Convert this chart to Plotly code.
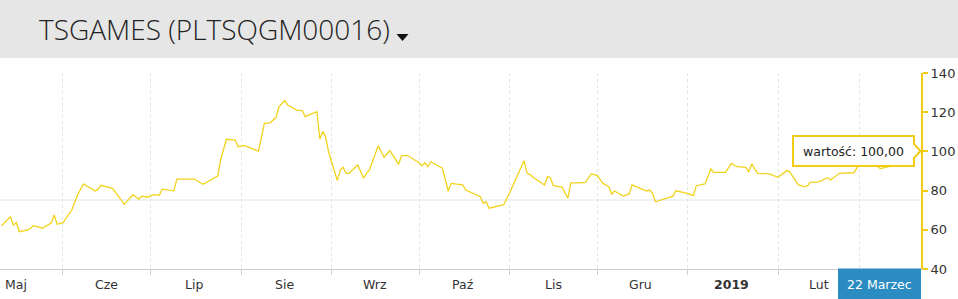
import plotly.graph_objects as go

dates = [
    "2018-05-11", "2018-05-14", "2018-05-15", "2018-05-16", "2018-05-17", "2018-05-20",
    "2018-05-22", "2018-05-25", "2018-05-28", "2018-05-29", "2018-05-30", "2018-06-01",
    "2018-06-04", "2018-06-06", "2018-06-08", "2018-06-12", "2018-06-13", "2018-06-14",
    "2018-06-18", "2018-06-20", "2018-06-22", "2018-06-25", "2018-06-27", "2018-06-28",
    "2018-06-30", "2018-07-02", "2018-07-04", "2018-07-05", "2018-07-09", "2018-07-10",
    "2018-07-16", "2018-07-19", "2018-07-24", "2018-07-25", "2018-07-27", "2018-07-30",
    "2018-07-31", "2018-08-02", "2018-08-05", "2018-08-07", "2018-08-09", "2018-08-11",
    "2018-08-13", "2018-08-14", "2018-08-16", "2018-08-17", "2018-08-20", "2018-08-22",
    "2018-08-23", "2018-08-27", "2018-08-28", "2018-08-29", "2018-08-30", "2018-08-31",
    "2018-09-03", "2018-09-04", "2018-09-05", "2018-09-06", "2018-09-07", "2018-09-10",
    "2018-09-12", "2018-09-13", "2018-09-14", "2018-09-17", "2018-09-19", "2018-09-21",
    "2018-09-24", "2018-09-25", "2018-09-27", "2018-10-01", "2018-10-02", "2018-10-03",
    "2018-10-04", "2018-10-05", "2018-10-09", "2018-10-11", "2018-10-12", "2018-10-16",
    "2018-10-17", "2018-10-22", "2018-10-23", "2018-10-24", "2018-10-25", "2018-10-29",
    "2018-10-30", "2018-11-01", "2018-11-06", "2018-11-07", "2018-11-08", "2018-11-09",
    "2018-11-13", "2018-11-14", "2018-11-15", "2018-11-16", "2018-11-19", "2018-11-21",
    "2018-11-22", "2018-11-25", "2018-11-27", "2018-11-29", "2018-12-01", "2018-12-03",
    "2018-12-05", "2018-12-06", "2018-12-07", "2018-12-10", "2018-12-12", "2018-12-13",
    "2018-12-15", "2018-12-18", "2018-12-19", "2018-12-20", "2018-12-21", "2018-12-27",
    "2018-12-28", "2019-01-01", "2019-01-03", "2019-01-04", "2019-01-07", "2019-01-09",
    "2019-01-10", "2019-01-14", "2019-01-16", "2019-01-18", "2019-01-21", "2019-01-22",
    "2019-01-23", "2019-01-25", "2019-01-29", "2019-02-01", "2019-02-04", "2019-02-05",
    "2019-02-08", "2019-02-10", "2019-02-11", "2019-02-12", "2019-02-15", "2019-02-18",
    "2019-02-19", "2019-02-22", "2019-02-27", "2019-02-28", "2019-03-01", "2019-03-04",
    "2019-03-06", "2019-03-08", "2019-03-11", "2019-03-13", "2019-03-15", "2019-03-18",
    "2019-03-20", "2019-03-22",
]

values = [
    62.1, 66.7, 62.4, 63.8, 59.0, 59.9,
    62.1, 60.8, 63.6, 67.6, 62.8, 63.6,
    70.1, 77.8, 83.4, 79.8, 80.7, 82.7,
    81.2, 76.9, 73.0, 77.9, 75.6, 77.2,
    76.6, 77.9, 77.6, 80.7, 79.9, 85.9,
    85.9, 83.2, 87.4, 95.6, 106.2, 105.8,
    102.4, 103.1, 101.1, 100.1, 114.3, 114.6,
    117.4, 122.8, 125.9, 123.7, 121.1, 120.8,
    117.7, 120.3, 106.3, 110.2, 107.3, 99.8,
    85.1, 90.5, 91.9, 88.8, 88.8, 93.1,
    86.3, 88.8, 90.5, 102.8, 97.0, 100.4,
    93.4, 97.7, 98.0, 94.2, 92.6, 94.2,
    92.2, 94.7, 91.4, 79.8, 83.7, 82.9,
    80.3, 76.9, 73.5, 74.3, 71.0, 72.7,
    72.8, 78.6, 95.3, 88.8, 88.3, 86.8,
    82.9, 87.1, 86.6, 82.5, 81.8, 76.1,
    83.9, 84.0, 84.2, 88.5, 87.8, 83.7,
    82.0, 78.1, 79.8, 77.2, 78.3, 82.9,
    81.5, 79.8, 80.3, 78.6, 74.3, 77.2,
    79.9, 78.6, 77.4, 82.5, 83.4, 91.0,
    89.3, 89.3, 93.9, 92.2, 91.9, 89.6,
    93.6, 88.8, 88.5, 86.8, 90.2, 89.6,
    82.9, 82.0, 82.3, 84.2, 84.5, 86.6,
    85.4, 88.8, 89.1, 91.9, 93.9, 95.5,
    94.0, 91.2, 92.2, 94.5, 97.0, 98.0,
    99.2, 100.0,
]

month_starts = ["2018-06-01", "2018-07-01", "2018-08-01", "2018-09-01", "2018-10-01",
                "2018-11-01", "2018-12-01", "2019-01-01", "2019-02-01", "2019-03-01"]
month_label_dates = ["2018-05-16", "2018-06-16", "2018-07-16", "2018-08-16", "2018-09-16",
                     "2018-10-16", "2018-11-16", "2018-12-16", "2019-01-16", "2019-02-15"]
month_labels = ["Maj", "Cze", "Lip", "Sie", "Wrz", "Paź", "Lis", "Gru", "<b>2019</b>", "Lut"]
y_ticks = [40, 60, 80, 100, 120, 140]
title_text = "TSGAMES (PLTSQGM00016)"
tooltip_text = "wartość: 100,00"
crosshair_date_text = "22 Marzec"
reference_level = 75.2

W, H = 958, 299
L, R, T, B = 0, 37, 73, 30
PW, PH = W - L - R, H - T - B


def px(x):
    return (x - L) / PW


def py(y):
    return (H - B - y) / PH


fig = go.Figure()
fig.add_trace(go.Scatter(
    x=dates, y=values, mode="lines",
    line=dict(color="#f2d31b", width=1.3),
    hoverinfo="skip", showlegend=False,
))

shapes = []
# header band
shapes.append(dict(type="rect", xref="paper", yref="paper",
                   x0=px(-5), x1=px(W + 5), y0=py(58), y1=py(-5),
                   fillcolor="#e6e6e6", line=dict(width=0), layer="below"))
# reference line
shapes.append(dict(type="line", xref="paper", yref="y", x0=0, x1=1,
                   y0=reference_level, y1=reference_level,
                   line=dict(color="#dbe6f0", width=1), layer="below"))
# dropdown triangle
shapes.append(dict(type="path", xref="paper", yref="paper",
                   path=f"M {px(396.5)} {py(34)} L {px(408.5)} {py(34)} L {px(402.5)} {py(41)} Z",
                   fillcolor="#111111", line=dict(width=0)))
# tooltip box
x_l, x_r, x_tip = px(793), px(914), px(920.5)
y_t, y_b = py(136), py(166)
y_a1, y_a2, y_m = py(144), py(158), py(151)
shapes.append(dict(type="path", xref="paper", yref="paper",
                   path=(f"M {x_l} {y_t} L {x_r} {y_t} L {x_r} {y_a1} L {x_tip} {y_m} "
                         f"L {x_r} {y_a2} L {x_r} {y_b} L {x_l} {y_b} Z"),
                   fillcolor="white", line=dict(color="#f2cc12", width=2)))
# date crosshair label box
shapes.append(dict(type="rect", xref="paper", yref="paper",
                   x0=px(838), x1=px(921), y0=py(299), y1=py(268.5),
                   fillcolor="#2b8cc2", line=dict(width=0)))

annotations = []
annotations.append(dict(text=title_text, xref="paper", yref="paper",
                        x=px(37), y=py(29), xanchor="left", yanchor="middle",
                        showarrow=False,
                        font=dict(family="Open Sans", size=28, color="#222222", weight=300)))
for d, lab in zip(month_label_dates, month_labels):
    annotations.append(dict(text=lab, xref="x", yref="paper", x=d, y=py(284),
                            xanchor="center", yanchor="middle", showarrow=False,
                            font=dict(family="DejaVu Sans", size=12.5, color="#333333")))
annotations.append(dict(text=tooltip_text, xref="paper", yref="paper",
                        x=(x_l + x_r) / 2, y=y_m, xanchor="center", yanchor="middle",
                        showarrow=False,
                        font=dict(family="DejaVu Sans", size=12.5, color="#222222")))
annotations.append(dict(text=crosshair_date_text, xref="paper", yref="paper",
                        x=px(879.5), y=py(284), xanchor="center", yanchor="middle",
                        showarrow=False,
                        font=dict(family="DejaVu Sans", size=12.5, color="#ffffff")))

fig.update_layout(
    width=W, height=H,
    margin=dict(l=L, r=R, t=T, b=B, pad=0),
    paper_bgcolor="white", plot_bgcolor="white",
    shapes=shapes, annotations=annotations,
    xaxis=dict(
        type="date", range=["2018-05-10 10:00", "2019-03-22"],
        tickvals=month_starts, ticktext=[""] * len(month_starts),
        showgrid=True, gridcolor="#e0e3ea", griddash="dot", gridwidth=1,
        showline=True, linecolor="#cccccc", linewidth=1,
        ticks="outside", ticklen=5, tickcolor="#d0d0d0",
        zeroline=False, fixedrange=True,
    ),
    yaxis=dict(
        side="right", range=[40, 140], tickvals=y_ticks,
        showgrid=False, zeroline=False,
        showline=True, linecolor="#f2cc12", linewidth=2,
        ticks="outside", ticklen=5, tickcolor="#f2cc12", tickwidth=2,
        tickfont=dict(family="DejaVu Sans", size=13, color="#333333"),
        fixedrange=True,
    ),
)

fig.write_html("out.html")
